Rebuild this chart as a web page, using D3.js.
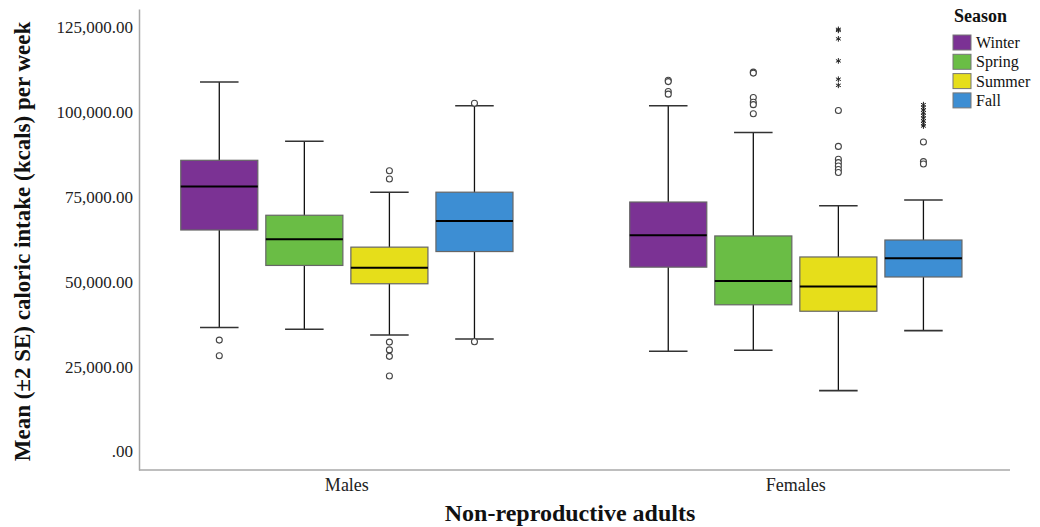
<!DOCTYPE html>
<html lang="en">
<head>
<meta charset="UTF-8">
<title>Caloric intake by season</title>
<script src="https://cdnjs.cloudflare.com/ajax/libs/d3/7.8.5/d3.min.js"></script>
<style>
    body { margin: 0; background: #fff; }
    svg { display: block; font-family: "Liberation Serif", "Times New Roman", serif; }
    .tick text { fill: #222; font-size: 17px; font-family: "Liberation Serif", "Times New Roman", serif; }
    .x-axis .tick text { font-size: 18px; }
    .axis path { stroke: #a8a8a8; stroke-width: 1.5; }
</style>
</head>
<body>
<div id="chart"></div>
<script>
    const groups = ["Males", "Females"];
    const seasons = ["Winter", "Spring", "Summer", "Fall"];
    const seasonColors = ["#7b3294", "#6abd45", "#e6de1a", "#3d8ed3"];
    const yTicks = [0, 25000, 50000, 75000, 100000, 125000];

    // box stats, one value per season
    const malesLow = [36400, 35900, 34200, 33000];
    const malesQ1 = [65150, 54700, 49300, 58800];
    const malesMedian = [78000, 62400, 54000, 67800];
    const malesQ3 = [85700, 69500, 60100, 76300];
    const malesHigh = [108800, 91300, 76300, 101800];
    const malesOutliers = [
        [32700, 28100],
        [],
        [82600, 80200, 32100, 29800, 27900, 22100],
        [102500, 32200]
    ];
    const malesExtremes = [[], [], [], []];

    const femalesLow = [29400, 29700, 17800, 35500];
    const femalesQ1 = [54200, 43100, 41200, 51300];
    const femalesMedian = [63600, 50100, 48500, 56800];
    const femalesQ3 = [73400, 63400, 57200, 62200];
    const femalesHigh = [101800, 93900, 72300, 74000];
    const femalesOutliers = [
        [109300, 108900, 106000, 105200],
        [111700, 111400, 104200, 102800, 102100, 99400],
        [100400, 89800, 86000, 85000, 84000, 83000, 82100],
        [91100, 85300, 84600]
    ];
    const femalesExtremes = [
        [],
        [],
        [124300, 124000, 121500, 115000, 109600, 107800],
        [102100, 101300, 100500, 99700, 98900, 98100, 97300, 96500, 95800]
    ];

    const stats = {
        Males: [malesLow, malesQ1, malesMedian, malesQ3, malesHigh, malesOutliers, malesExtremes],
        Females: [femalesLow, femalesQ1, femalesMedian, femalesQ3, femalesHigh, femalesOutliers, femalesExtremes]
    };

    const boxes = [];
    groups.forEach(g => {
        const [lo, q1, med, q3, hi, outs, ext] = stats[g];
        seasons.forEach((s, i) => {
            boxes.push({ group: g, season: s, color: seasonColors[i],
                lo: lo[i], q1: q1[i], med: med[i], q3: q3[i], hi: hi[i],
                outliers: outs[i], extremes: ext[i] });
        });
    });

    const width = 1040, height = 527;
    const plotLeft = 139, plotRight = 1010, plotTop = 9, plotBottom = 470;

    const svg = d3.select("#chart").append("svg")
        .attr("width", width)
        .attr("height", height);

    const y = d3.scaleLinear().domain([-5600, 130300]).range([plotBottom, plotTop]);

    const x0 = d3.scaleBand().domain(groups).range([plotLeft, plotRight])
        .paddingInner(0.26).paddingOuter(0.1).align(0.465);
    const x1 = d3.scaleBand().domain(seasons).range([0, x0.bandwidth()])
        .paddingInner(0.094).paddingOuter(0);

    const fmt = v => v === 0 ? ".00" : d3.format(",.2f")(v);

    // axes
    svg.append("g")
        .attr("class", "axis")
        .attr("transform", `translate(${plotLeft},0)`)
        .call(d3.axisLeft(y).tickValues(yTicks).tickFormat(fmt).tickSize(0).tickPadding(6))
        .call(g => g.selectAll(".tick text").attr("dy", "0.35em"));

    svg.append("g")
        .attr("class", "axis x-axis")
        .attr("transform", `translate(0,${plotBottom})`)
        .call(d3.axisBottom(x0).tickSize(0).tickPadding(8))
        .call(g => g.select(".domain").attr("d", `M${plotLeft},0H${plotRight}`));

    // boxes
    const bw = x1.bandwidth();
    const box = svg.append("g").selectAll("g")
        .data(boxes)
        .join("g")
        .attr("transform", d => `translate(${x0(d.group) + x1(d.season)},0)`);

    box.append("line")
        .attr("x1", bw / 2).attr("x2", bw / 2)
        .attr("y1", d => y(d.hi)).attr("y2", d => y(d.lo))
        .attr("stroke", "#111").attr("stroke-width", 1.3);

    box.selectAll("line.cap")
        .data(d => [d.lo, d.hi])
        .join("line")
        .attr("class", "cap")
        .attr("x1", bw / 4).attr("x2", bw * 3 / 4)
        .attr("y1", v => y(v)).attr("y2", v => y(v))
        .attr("stroke", "#333").attr("stroke-width", 1.6);

    box.append("rect")
        .attr("x", 0).attr("width", bw)
        .attr("y", d => y(d.q3))
        .attr("height", d => y(d.q1) - y(d.q3))
        .attr("fill", d => d.color)
        .attr("stroke", "#666").attr("stroke-width", 1.2);

    box.append("line")
        .attr("x1", 0).attr("x2", bw)
        .attr("y1", d => y(d.med)).attr("y2", d => y(d.med))
        .attr("stroke", "#000").attr("stroke-width", 2);

    box.selectAll("circle")
        .data(d => d.outliers)
        .join("circle")
        .attr("cx", bw / 2).attr("cy", v => y(v)).attr("r", 3)
        .attr("fill", "#fff").attr("stroke", "#444").attr("stroke-width", 1.1);

    const star = d3.symbol(d3.symbolAsterisk, 22);
    box.selectAll("path.star")
        .data(d => d.extremes)
        .join("path")
        .attr("class", "star")
        .attr("transform", v => `translate(${bw / 2},${y(v)})`)
        .attr("d", star)
        .attr("fill", "none").attr("stroke", "#222").attr("stroke-width", 1);

    // axis titles
    svg.append("text")
        .attr("transform", `translate(30,${(plotTop + plotBottom) / 2 + 2}) rotate(-90)`)
        .attr("text-anchor", "middle")
        .style("font-size", "23px").style("font-weight", "bold").style("fill", "#111")
        .text("Mean (±2 SE) caloric intake (kcals) per week");

    svg.append("text")
        .attr("x", 570).attr("y", 521)
        .attr("text-anchor", "middle")
        .style("font-size", "24px").style("font-weight", "bold").style("fill", "#111")
        .text("Non-reproductive adults");

    // legend
    const legend = svg.append("g").attr("transform", "translate(953,0)");
    legend.append("text")
        .attr("x", 1).attr("y", 22)
        .style("font-size", "18px").style("font-weight", "bold").style("fill", "#111")
        .text("Season");

    const item = legend.selectAll("g.item")
        .data(seasons)
        .join("g")
        .attr("class", "item")
        .attr("transform", (d, i) => `translate(0,${35 + i * 19.3})`);

    item.append("rect")
        .attr("width", 18).attr("height", 15)
        .attr("fill", (d, i) => seasonColors[i])
        .attr("stroke", "#777").attr("stroke-width", 1);

    item.append("text")
        .attr("x", 23).attr("y", 13)
        .style("font-size", "16px").style("fill", "#111")
        .text(d => d);
</script>
</body>
</html>
